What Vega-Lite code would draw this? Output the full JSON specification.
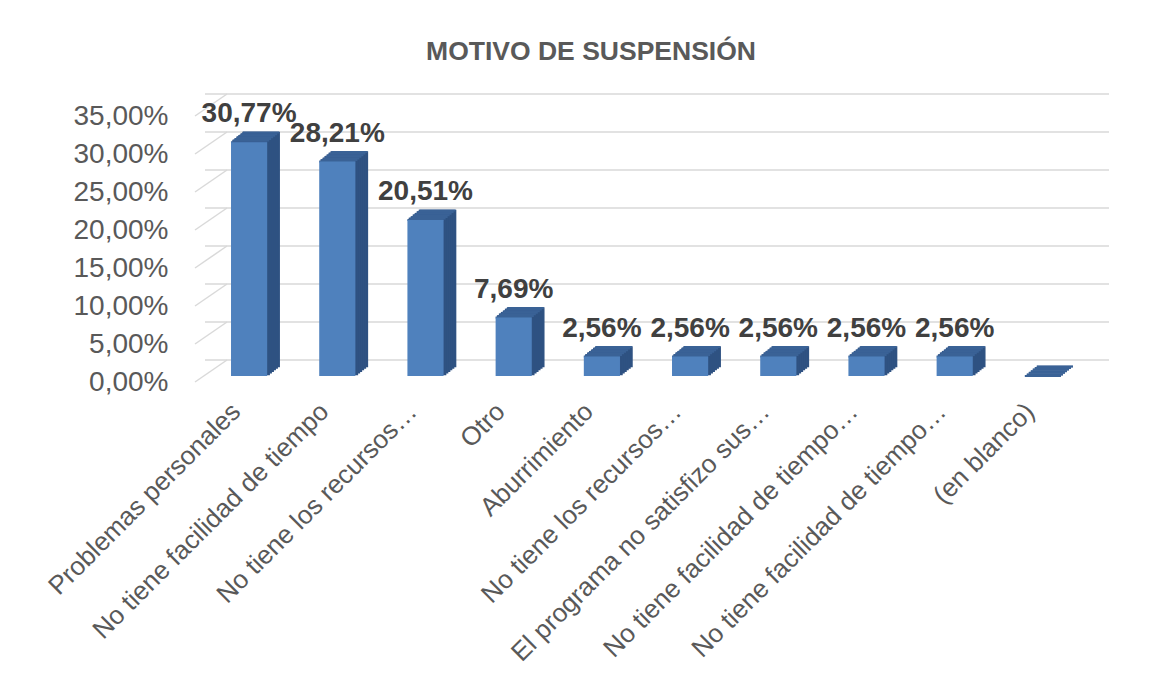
{
  "$schema": "https://vega.github.io/schema/vega-lite/v6.json",
  "width": 882,
  "height": 266,
  "autosize": {"type": "none"},
  "padding": {"left": 205, "top": 110, "right": 74, "bottom": 299},
  "background": "white",
  "config": {
    "locale": {"number": {"decimal": ",", "thousands": ".", "grouping": [3], "currency": ["", " €"]}},
    "view": {"stroke": null},
    "font": "Liberation Sans",
    "axis": {"grid": false, "ticks": false, "domain": false, "labelFont": "Liberation Sans", "labelColor": "#595959", "labelOverlap": false}
  },
  "title": {"text": "MOTIVO DE SUSPENSIÓN", "fontSize": 26.5, "fontWeight": "bold", "color": "#595959", "font": "Liberation Sans", "anchor": "middle", "frame": "group", "dx": -55, "offset": 28},
  "datasets": {
    "motivos": [
      {"motivo": "Problemas personales", "valor": 0.3077},
      {"motivo": "No tiene facilidad de tiempo", "valor": 0.2821},
      {"motivo": "No tiene los recursos…", "valor": 0.2051},
      {"motivo": "Otro", "valor": 0.0769},
      {"motivo": "Aburrimiento", "valor": 0.0256},
      {"motivo": "No tiene los recursos…\u200b", "valor": 0.0256},
      {"motivo": "El programa no satisfizo sus…", "valor": 0.0256},
      {"motivo": "No tiene facilidad de tiempo…", "valor": 0.0256},
      {"motivo": "No tiene facilidad de tiempo…\u200b", "valor": 0.0256},
      {"motivo": "(en blanco)", "valor": 0}
    ],
    "ticks": [{"t": 0}, {"t": 0.05}, {"t": 0.1}, {"t": 0.15}, {"t": 0.2}, {"t": 0.25}, {"t": 0.3}, {"t": 0.35}]
  },
  "layer": [
    {
      "data": {"name": "ticks"},
      "mark": {"type": "rule", "color": "#d9d9d9", "strokeWidth": 1.5, "xOffset": 22, "x2Offset": 22, "yOffset": -16},
      "encoding": {
        "y": {"field": "t", "type": "quantitative", "title": null, "scale": {"domain": [0, 0.35], "nice": false},
          "axis": {"values": [0, 0.05, 0.1, 0.15, 0.2, 0.25, 0.3, 0.35], "tickCount": 8, "format": ".2%", "labelFontSize": 28, "labelPadding": 37, "labelOffset": 6, "labelOverlap": false, "title": null}}
      }
    },
    {
      "data": {"name": "ticks"},
      "mark": {"type": "rule", "color": "#d9d9d9", "strokeWidth": 1.5, "xOffset": -10, "x2Offset": 22, "yOffset": 6, "y2Offset": -16},
      "encoding": {
        "y": {"field": "t", "type": "quantitative", "title": null},
        "y2": {"field": "t"},
        "x": {"value": 0},
        "x2": {"value": 0}
      }
    },
    {"data": {"name": "motivos"}, "mark": {"type": "bar", "color": "#2f5282", "stroke": "#2f5282", "strokeWidth": 1.5, "xOffset": 12, "x2Offset": 12, "yOffset": -9.6, "y2Offset": -9.6},
      "encoding": {"x": {"field": "motivo", "type": "nominal", "sort": null, "title": null, "scale": {"paddingInner": 0.59, "paddingOuter": 0.295}}, "y": {"field": "valor", "type": "quantitative", "title": null}}},
    {"data": {"name": "motivos"}, "mark": {"type": "bar", "color": "#2f5282", "stroke": "#2f5282", "strokeWidth": 1.5, "xOffset": 10, "x2Offset": 10, "yOffset": -8, "y2Offset": -8},
      "encoding": {"x": {"field": "motivo", "type": "nominal", "sort": null, "title": null}, "y": {"field": "valor", "type": "quantitative", "title": null}}},
    {"data": {"name": "motivos"}, "mark": {"type": "bar", "color": "#2f5282", "stroke": "#2f5282", "strokeWidth": 1.5, "xOffset": 8, "x2Offset": 8, "yOffset": -6.4, "y2Offset": -6.4},
      "encoding": {"x": {"field": "motivo", "type": "nominal", "sort": null, "title": null}, "y": {"field": "valor", "type": "quantitative", "title": null}}},
    {"data": {"name": "motivos"}, "mark": {"type": "bar", "color": "#2f5282", "stroke": "#2f5282", "strokeWidth": 1.5, "xOffset": 6, "x2Offset": 6, "yOffset": -4.8, "y2Offset": -4.8},
      "encoding": {"x": {"field": "motivo", "type": "nominal", "sort": null, "title": null}, "y": {"field": "valor", "type": "quantitative", "title": null}}},
    {"data": {"name": "motivos"}, "mark": {"type": "bar", "color": "#2f5282", "stroke": "#2f5282", "strokeWidth": 1.5, "xOffset": 4, "x2Offset": 4, "yOffset": -3.2, "y2Offset": -3.2},
      "encoding": {"x": {"field": "motivo", "type": "nominal", "sort": null, "title": null}, "y": {"field": "valor", "type": "quantitative", "title": null}}},
    {"data": {"name": "motivos"}, "mark": {"type": "bar", "color": "#2f5282", "stroke": "#2f5282", "strokeWidth": 1.5, "xOffset": 2, "x2Offset": 2, "yOffset": -1.6, "y2Offset": -1.6},
      "encoding": {"x": {"field": "motivo", "type": "nominal", "sort": null, "title": null}, "y": {"field": "valor", "type": "quantitative", "title": null}}},
    {"data": {"name": "motivos"}, "mark": {"type": "bar", "color": "#3a6296", "stroke": "#3a6296", "strokeWidth": 2, "xOffset": 12, "x2Offset": 12, "yOffset": -9.6, "y2Offset": -9.6},
      "encoding": {"x": {"field": "motivo", "type": "nominal", "sort": null, "title": null}, "y": {"field": "valor", "type": "quantitative", "title": null}, "y2": {"field": "valor"}}},
    {"data": {"name": "motivos"}, "mark": {"type": "bar", "color": "#3a6296", "stroke": "#3a6296", "strokeWidth": 2, "xOffset": 10, "x2Offset": 10, "yOffset": -8, "y2Offset": -8},
      "encoding": {"x": {"field": "motivo", "type": "nominal", "sort": null, "title": null}, "y": {"field": "valor", "type": "quantitative", "title": null}, "y2": {"field": "valor"}}},
    {"data": {"name": "motivos"}, "mark": {"type": "bar", "color": "#3a6296", "stroke": "#3a6296", "strokeWidth": 2, "xOffset": 8, "x2Offset": 8, "yOffset": -6.4, "y2Offset": -6.4},
      "encoding": {"x": {"field": "motivo", "type": "nominal", "sort": null, "title": null}, "y": {"field": "valor", "type": "quantitative", "title": null}, "y2": {"field": "valor"}}},
    {"data": {"name": "motivos"}, "mark": {"type": "bar", "color": "#3a6296", "stroke": "#3a6296", "strokeWidth": 2, "xOffset": 6, "x2Offset": 6, "yOffset": -4.8, "y2Offset": -4.8},
      "encoding": {"x": {"field": "motivo", "type": "nominal", "sort": null, "title": null}, "y": {"field": "valor", "type": "quantitative", "title": null}, "y2": {"field": "valor"}}},
    {"data": {"name": "motivos"}, "mark": {"type": "bar", "color": "#3a6296", "stroke": "#3a6296", "strokeWidth": 2, "xOffset": 4, "x2Offset": 4, "yOffset": -3.2, "y2Offset": -3.2},
      "encoding": {"x": {"field": "motivo", "type": "nominal", "sort": null, "title": null}, "y": {"field": "valor", "type": "quantitative", "title": null}, "y2": {"field": "valor"}}},
    {"data": {"name": "motivos"}, "mark": {"type": "bar", "color": "#3a6296", "stroke": "#3a6296", "strokeWidth": 2, "xOffset": 2, "x2Offset": 2, "yOffset": -1.6, "y2Offset": -1.6},
      "encoding": {"x": {"field": "motivo", "type": "nominal", "sort": null, "title": null}, "y": {"field": "valor", "type": "quantitative", "title": null}, "y2": {"field": "valor"}}},
    {"data": {"name": "motivos"}, "mark": {"type": "bar", "color": "#3a6296", "stroke": "#3a6296", "strokeWidth": 2},
      "encoding": {"x": {"field": "motivo", "type": "nominal", "sort": null, "title": null}, "y": {"field": "valor", "type": "quantitative", "title": null}, "y2": {"field": "valor"}}},
    {"data": {"name": "motivos"}, "mark": {"type": "bar", "color": "#4f81bd"},
      "encoding": {
        "x": {"field": "motivo", "type": "nominal", "sort": null, "title": null,
          "axis": {"labelAngle": -45, "labelAlign": "right", "labelBaseline": "top", "labelFontSize": 26, "labelPadding": 22, "labelOffset": -22, "labelLimit": 0, "labelOverlap": false, "title": null}},
        "y": {"field": "valor", "type": "quantitative", "title": null,
          "axis": {"values": [0, 0.05, 0.1, 0.15, 0.2, 0.25, 0.3, 0.35], "tickCount": 8, "format": ".2%", "labelFontSize": 28, "labelPadding": 37, "labelOffset": 6, "labelOverlap": false, "title": null}}
      }
    },
    {"data": {"name": "motivos"}, "transform": [{"filter": "datum.valor > 0"}],
      "mark": {"type": "text", "baseline": "alphabetic", "dy": -20, "fontSize": 28, "fontWeight": "bold", "color": "#404040", "font": "Liberation Sans"},
      "encoding": {
        "x": {"field": "motivo", "type": "nominal", "sort": null, "title": null},
        "y": {"field": "valor", "type": "quantitative", "title": null},
        "text": {"field": "valor", "type": "quantitative", "format": ".2%"}
      }
    }
  ]
}
